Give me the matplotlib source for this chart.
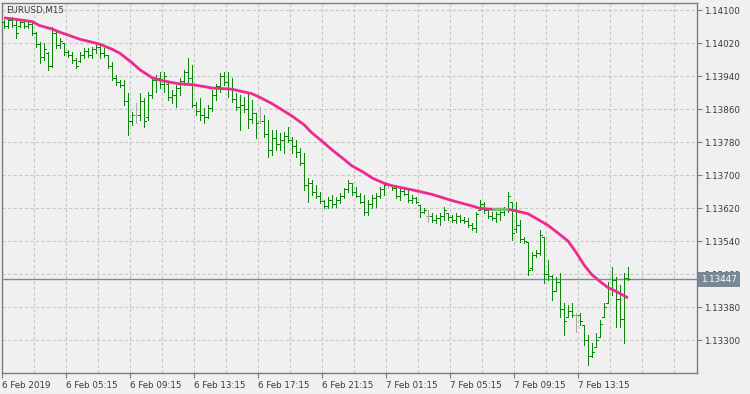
import numpy as np
import matplotlib
matplotlib.use("Agg")
import matplotlib.pyplot as plt
from matplotlib.collections import LineCollection
import matplotlib.transforms as mtrans

# ---------------- data ----------------
symbol_title = "EURUSD,M15"

highs = [1.14076, 1.14081, 1.14083, 1.14081, 1.14076, 1.14076, 1.14071, 1.14068, 1.14047, 1.14022,
         1.14020, 1.13998, 1.14059, 1.14052, 1.14032, 1.14020, 1.14003, 1.13998, 1.13984, 1.13998,
         1.14008, 1.14008, 1.14010, 1.14015, 1.14020, 1.14008, 1.13991, 1.13974, 1.13942, 1.13930,
         1.13930, 1.13899, 1.13853, 1.13875, 1.13899, 1.13887, 1.13901, 1.13938, 1.13942, 1.13950,
         1.13950, 1.13923, 1.13906, 1.13918, 1.13935, 1.13955, 1.13984, 1.13967, 1.13877, 1.13887,
         1.13862, 1.13870, 1.13906, 1.13921, 1.13947, 1.13950, 1.13950, 1.13935, 1.13899, 1.13894,
         1.13889, 1.13899, 1.13882, 1.13850, 1.13865, 1.13845, 1.13833, 1.13809, 1.13809, 1.13802,
         1.13804, 1.13816, 1.13792, 1.13785, 1.13765, 1.13753, 1.13693, 1.13688, 1.13676, 1.13659,
         1.13639, 1.13647, 1.13652, 1.13647, 1.13656, 1.13669, 1.13688, 1.13681, 1.13671, 1.13656,
         1.13652, 1.13639, 1.13652, 1.13656, 1.13671, 1.13681, 1.13681, 1.13676, 1.13676, 1.13671,
         1.13669, 1.13664, 1.13652, 1.13647, 1.13627, 1.13620, 1.13615, 1.13608, 1.13603, 1.13608,
         1.13622, 1.13608, 1.13603, 1.13608, 1.13603, 1.13598, 1.13596, 1.13584, 1.13610, 1.13639,
         1.13635, 1.13615, 1.13610, 1.13610, 1.13615, 1.13622, 1.13659, 1.13635, 1.13635, 1.13591,
         1.13550, 1.13538, 1.13513, 1.13518, 1.13567, 1.13550, 1.13494, 1.13458, 1.13453, 1.13462,
         1.13390, 1.13385, 1.13390, 1.13366, 1.13366, 1.13336, 1.13312, 1.13293, 1.13317, 1.13349,
         1.13390, 1.13441, 1.13477, 1.13453, 1.13433, 1.13462, 1.13477]

lows = [1.14056, 1.14056, 1.14059, 1.14032, 1.14059, 1.14056, 1.14056, 1.14039, 1.14010, 1.13972,
        1.13979, 1.13955, 1.13962, 1.14008, 1.14008, 1.13991, 1.13986, 1.13972, 1.13959, 1.13974,
        1.13984, 1.13986, 1.13984, 1.13996, 1.13984, 1.13986, 1.13959, 1.13930, 1.13918, 1.13913,
        1.13870, 1.13797, 1.13821, 1.13826, 1.13833, 1.13816, 1.13833, 1.13887, 1.13901, 1.13911,
        1.13901, 1.13882, 1.13875, 1.13865, 1.13894, 1.13918, 1.13923, 1.13865, 1.13845, 1.13833,
        1.13826, 1.13838, 1.13855, 1.13882, 1.13901, 1.13918, 1.13889, 1.13877, 1.13858, 1.13809,
        1.13853, 1.13814, 1.13826, 1.13790, 1.13826, 1.13792, 1.13744, 1.13749, 1.13761, 1.13761,
        1.13753, 1.13780, 1.13753, 1.13744, 1.13724, 1.13664, 1.13635, 1.13652, 1.13644, 1.13632,
        1.13620, 1.13620, 1.13622, 1.13622, 1.13632, 1.13644, 1.13659, 1.13652, 1.13647, 1.13632,
        1.13603, 1.13603, 1.13620, 1.13622, 1.13644, 1.13652, 1.13669, 1.13664, 1.13644, 1.13639,
        1.13652, 1.13635, 1.13632, 1.13632, 1.13598, 1.13608, 1.13586, 1.13586, 1.13584, 1.13579,
        1.13591, 1.13591, 1.13586, 1.13584, 1.13586, 1.13584, 1.13574, 1.13567, 1.13562, 1.13615,
        1.13608, 1.13596, 1.13591, 1.13586, 1.13591, 1.13603, 1.13610, 1.13542, 1.13562, 1.13538,
        1.13535, 1.13458, 1.13470, 1.13501, 1.13506, 1.13438, 1.13446, 1.13397, 1.13421, 1.13356,
        1.13312, 1.13356, 1.13356, 1.13319, 1.13336, 1.13288, 1.13239, 1.13259, 1.13283, 1.13307,
        1.13356, 1.13390, 1.13409, 1.13332, 1.13332, 1.13293, 1.13446]

opens = [1.14070, 1.14062, 1.14075, 1.14064, 1.14062, 1.14070, 1.14062, 1.14066, 1.14045, 1.14018,
         1.13985, 1.13995, 1.13965, 1.14045, 1.14015, 1.14020, 1.13998, 1.13990, 1.13978, 1.13976,
         1.13992, 1.14000, 1.13992, 1.14005, 1.14010, 1.13995, 1.13990, 1.13965, 1.13935, 1.13925,
         1.13918, 1.13880, 1.13830, 1.13845, 1.13845, 1.13880, 1.13840, 1.13895, 1.13930, 1.13935,
         1.13920, 1.13920, 1.13890, 1.13895, 1.13910, 1.13928, 1.13950, 1.13935, 1.13870, 1.13855,
         1.13845, 1.13840, 1.13862, 1.13895, 1.13915, 1.13940, 1.13925, 1.13910, 1.13885, 1.13865,
         1.13870, 1.13860, 1.13835, 1.13850, 1.13830, 1.13830, 1.13800, 1.13760, 1.13790, 1.13775,
         1.13785, 1.13795, 1.13785, 1.13770, 1.13755, 1.13730, 1.13675, 1.13680, 1.13660, 1.13650,
         1.13638, 1.13625, 1.13640, 1.13630, 1.13640, 1.13650, 1.13665, 1.13680, 1.13660, 1.13650,
         1.13635, 1.13610, 1.13630, 1.13645, 1.13650, 1.13665, 1.13675, 1.13675, 1.13668, 1.13650,
         1.13662, 1.13655, 1.13640, 1.13645, 1.13627, 1.13610, 1.13600, 1.13600, 1.13590, 1.13595,
         1.13600, 1.13608, 1.13598, 1.13592, 1.13600, 1.13592, 1.13588, 1.13580, 1.13572, 1.13615,
         1.13630, 1.13615, 1.13600, 1.13595, 1.13605, 1.13610, 1.13618, 1.13635, 1.13570, 1.13580,
         1.13545, 1.13538, 1.13475, 1.13505, 1.13512, 1.13550, 1.13460, 1.13455, 1.13420, 1.13440,
         1.13375, 1.13356, 1.13370, 1.13360, 1.13360, 1.13336, 1.13300, 1.13262, 1.13283, 1.13307,
         1.13356, 1.13390, 1.13425, 1.13445, 1.13400, 1.13350, 1.13450]

closes = [1.14062, 1.14075, 1.14064, 1.14045, 1.14070, 1.14062, 1.14066, 1.14045, 1.14018, 1.13985,
          1.14005, 1.13965, 1.14045, 1.14015, 1.14025, 1.13998, 1.13990, 1.13978, 1.13965, 1.13992,
          1.14000, 1.13992, 1.14005, 1.14010, 1.13995, 1.13990, 1.13965, 1.13935, 1.13925, 1.13918,
          1.13880, 1.13830, 1.13845, 1.13845, 1.13880, 1.13830, 1.13895, 1.13930, 1.13935, 1.13920,
          1.13940, 1.13890, 1.13895, 1.13910, 1.13928, 1.13950, 1.13935, 1.13870, 1.13855, 1.13845,
          1.13840, 1.13862, 1.13895, 1.13915, 1.13940, 1.13925, 1.13910, 1.13885, 1.13865, 1.13870,
          1.13860, 1.13835, 1.13850, 1.13825, 1.13830, 1.13800, 1.13760, 1.13790, 1.13775, 1.13785,
          1.13795, 1.13785, 1.13770, 1.13755, 1.13730, 1.13675, 1.13680, 1.13660, 1.13650, 1.13638,
          1.13625, 1.13640, 1.13630, 1.13640, 1.13650, 1.13665, 1.13680, 1.13660, 1.13650, 1.13635,
          1.13610, 1.13630, 1.13645, 1.13650, 1.13665, 1.13675, 1.13675, 1.13668, 1.13650, 1.13662,
          1.13655, 1.13640, 1.13645, 1.13635, 1.13610, 1.13615, 1.13600, 1.13590, 1.13595, 1.13600,
          1.13615, 1.13598, 1.13592, 1.13600, 1.13592, 1.13588, 1.13580, 1.13572, 1.13605, 1.13630,
          1.13615, 1.13600, 1.13595, 1.13605, 1.13610, 1.13618, 1.13650, 1.13560, 1.13580, 1.13545,
          1.13540, 1.13470, 1.13505, 1.13512, 1.13555, 1.13460, 1.13455, 1.13420, 1.13440, 1.13375,
          1.13345, 1.13370, 1.13360, 1.13360, 1.13345, 1.13300, 1.13262, 1.13270, 1.13300, 1.13340,
          1.13380, 1.13425, 1.13445, 1.13400, 1.13350, 1.13450, 1.13447]

# moving average (bar index, value)
ma_bars = [0, 4, 7, 9, 12, 14, 17, 19, 22, 24, 27, 29, 32, 34, 37, 39, 42, 44, 47, 49,
           52, 57, 62, 64, 67, 72, 75, 77, 80, 82, 85, 87, 90, 92, 95, 97, 100, 103, 107, 112,
           117, 119, 122, 126, 128, 131, 133, 136, 138, 141, 143, 145, 147, 149, 151, 153, 156]
ma_vals = [1.14081, 1.14076, 1.14072, 1.14062, 1.14054, 1.14046, 1.14036, 1.14029, 1.14022, 1.14017,
           1.14005, 1.13995, 1.13972, 1.13955, 1.13936, 1.13930, 1.13924, 1.13921, 1.13919, 1.13916,
           1.13911, 1.13908, 1.13897, 1.13888, 1.13873, 1.13843, 1.13822, 1.13802, 1.13778, 1.13761,
           1.13738, 1.13722, 1.13706, 1.13693, 1.13680, 1.13674, 1.13668, 1.13662, 1.13653, 1.13638,
           1.13625, 1.13619, 1.13617, 1.13617, 1.13613, 1.13606, 1.13595, 1.13578, 1.13563, 1.13540,
           1.13513, 1.13482, 1.13458, 1.13442, 1.13427, 1.13418, 1.13402]
ma_flat_from, ma_flat_to = 122, 126   # segment drawn in the "flat" colour

current_price = 1.13447
current_label = "1.13447"

y_ticks = [1.13300, 1.13380, 1.13460, 1.13540, 1.13620, 1.13700,
           1.13780, 1.13860, 1.13940, 1.14020, 1.14100]
y_tick_labels = ["1.13300", "1.13380", "1.13460", "1.13540", "1.13620", "1.13700",
                 "1.13780", "1.13860", "1.13940", "1.14020", "1.14100"]

x_tick_bars = [0, 16, 32, 48, 64, 80, 96, 112, 128, 144]
x_tick_labels = ["6 Feb 2019", "6 Feb 05:15", "6 Feb 09:15", "6 Feb 13:15", "6 Feb 17:15",
                 "6 Feb 21:15", "7 Feb 01:15", "7 Feb 05:15", "7 Feb 09:15", "7 Feb 13:15"]

# ---------------- style ----------------
BG = "#f0f0f0"
GRID = "#c8c8c8"
FRAME = "#7c7c7c"
BAR = "#0a870a"
DOJI = "#a8a8a8"
MA = "#ee2a8e"
MA_FLAT = "#66cc66"
PRICE = "#7f8c98"
TXT = "#3a3a3a"

W, H = 750, 394
fig = plt.figure(figsize=(W / 100, H / 100), dpi=100, facecolor=BG)
ax_l, ax_r, ax_t, ax_b = 2.0, 697.0, 2.7, 373.3
ax = fig.add_axes([ax_l / W, (H - ax_b) / H, (ax_r - ax_l) / W, (ax_b - ax_t) / H])
ax.set_facecolor(BG)

ppb = 4.0  # pixels per bar
xmin = -0.5
xmax = xmin + (ax_r - ax_l) / ppb
ax.set_xlim(xmin, xmax)
ax.set_ylim(1.132193, 1.141177)

o = np.array(opens); h = np.array(highs); l = np.array(lows); c = np.array(closes)
n = len(o)

segs, cols = [], []
for i in range(n):
    col = DOJI if abs(o[i] - c[i]) < 1e-7 else BAR
    segs.append([(i, l[i]), (i, h[i])])
    segs.append([(i - 0.4, o[i]), (i, o[i])])
    segs.append([(i, c[i]), (i + 0.4, c[i])])
    cols += [col, col, col]
lc = LineCollection(segs, colors=cols, linewidths=0.72, zorder=3, capstyle="butt",
                    antialiaseds=False)
ax.add_collection(lc)

# moving average
ma_b = np.array(ma_bars); ma_v = np.array(ma_vals)
ax.plot(ma_b, ma_v, color=MA, lw=2.0, zorder=4, solid_capstyle="butt")
mask = (ma_b >= ma_flat_from) & (ma_b <= ma_flat_to)
ax.plot(ma_b[mask], ma_v[mask], color=MA_FLAT, lw=2.0, zorder=4.1, solid_capstyle="butt")

# current price line
ax.axhline(current_price, color=PRICE, lw=1.0, zorder=2.6)

# grid
for yv in y_ticks:
    ax.axhline(yv, color=GRID, lw=0.8, ls=(0, (3, 2)), zorder=1)
for xv in np.arange(xmin, xmax, 8):
    ax.axvline(xv, color=GRID, lw=0.8, ls=(0, (3, 2)), zorder=1)

# axes / ticks
for s in ax.spines.values():
    s.set_color(FRAME)
    s.set_linewidth(1.0)
ax.yaxis.tick_right()
ax.set_yticks(y_ticks)
ax.set_yticklabels(y_tick_labels)
ax.set_xticks([b - 0.5 for b in x_tick_bars])
ax.set_xticklabels(x_tick_labels, ha="left")
ax.tick_params(axis="y", direction="out", length=3.5, width=0.8, color=FRAME,
               labelsize=6.3, labelcolor=TXT, pad=1.5)
ax.tick_params(axis="x", direction="out", length=3.5, width=0.8, color=FRAME,
               labelsize=6.3, labelcolor=TXT, pad=2.0)

# title
ax.text(4.5 / (ax_r - ax_l), 1 - (10.5 - ax_t) / (ax_b - ax_t), symbol_title,
        transform=ax.transAxes, fontsize=6.3, color=TXT, va="center", ha="left", zorder=6)

# current price label
trans = mtrans.blended_transform_factory(ax.transAxes, ax.transData)
ax.text(1.0 + 4.0 / (ax_r - ax_l), current_price, current_label, transform=trans,
        fontsize=6.3, color="white", va="center", ha="left", clip_on=False, zorder=10,
        bbox=dict(boxstyle="square,pad=0.32", fc="#7a8796", ec="none"))

fig.savefig("out.png", dpi=100, facecolor=BG)
